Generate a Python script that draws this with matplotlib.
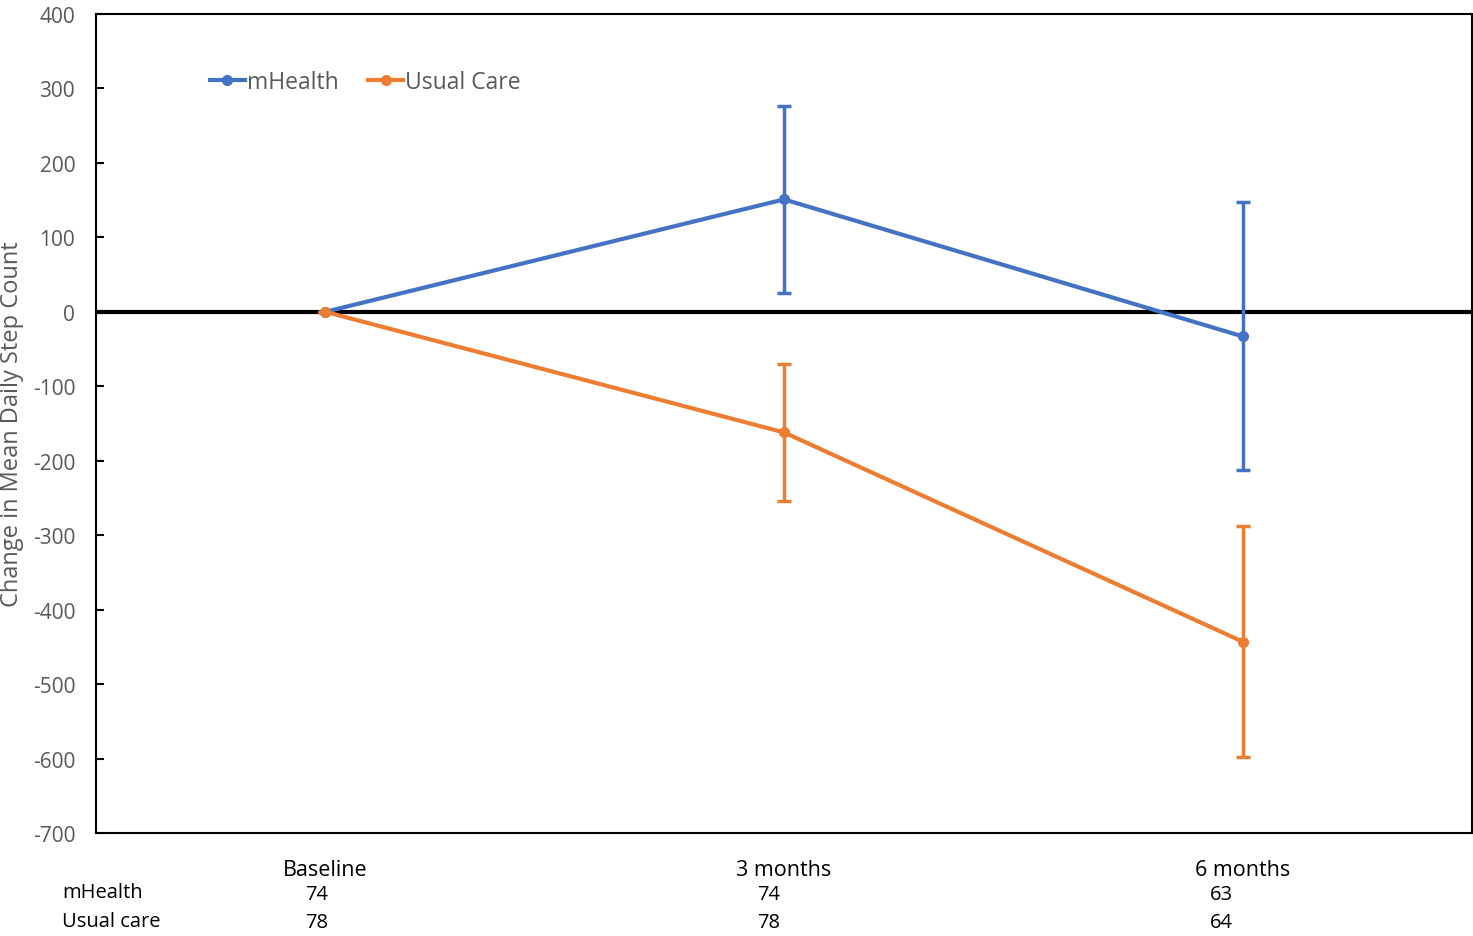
import matplotlib.pyplot as plt
from matplotlib.lines import Line2D

plt.rcParams['font.family'] = ['Open Sans', 'DejaVu Sans']
plt.rcParams['axes.unicode_minus'] = False

timepoints = ['Baseline', '3 months', '6 months']
mhealth_mean = [0, 151, -33]
mhealth_err = [0, 126, 180]
usual_mean = [0, -162, -443]
usual_err = [0, 92, 155]
mhealth_n = [74, 74, 63]
usual_n = [78, 78, 64]

blue = '#4472C4'
orange = '#ED7D31'
grey = '#595959'

fig = plt.figure(figsize=(14.73, 9.37), dpi=100)
ax = fig.add_axes([96 / 1473, 1 - 834 / 937, 1376 / 1473, 819 / 937])

x = [0.5, 1.5, 2.5]
ax.errorbar(x, mhealth_mean, yerr=mhealth_err, color=blue, lw=3, marker='o', ms=7,
            elinewidth=2.5, capsize=5, capthick=2.5, label='mHealth', zorder=3)
ax.errorbar(x, usual_mean, yerr=usual_err, color=orange, lw=3, marker='o', ms=7,
            elinewidth=2.5, capsize=5, capthick=2.5, label='Usual Care', zorder=3)
ax.axhline(0, color='black', lw=3, zorder=2)

ax.set_xlim(0, 3)
ax.set_ylim(-700, 400)
ax.set_yticks(range(-700, 401, 100))
ax.set_xticks([])
ax.tick_params(axis='y', direction='in', length=6, width=1.5, labelsize=15, labelcolor=grey, pad=15)
for s in ax.spines.values():
    s.set_linewidth(1.5)
fig.text(12 / 1473, 1 - 424 / 937, 'Change in Mean Daily Step Count', rotation=90,
         ha='center', va='center', fontsize=17, color=grey)

# n table under the axis
shift = [-0.02, -0.033, -0.046]
for xi, dx, lab, a, b in zip(x, shift, timepoints, mhealth_n, usual_n):
    ax.text(xi, -0.045, lab, transform=ax.get_xaxis_transform(), ha='center', va='center', fontsize=15.5)
    ax.text(xi + dx, -0.074, str(a), transform=ax.get_xaxis_transform(), ha='center', va='center', fontsize=14.5)
    ax.text(xi + dx, -0.109, str(b), transform=ax.get_xaxis_transform(), ha='center', va='center', fontsize=14.5)
fig.text(62 / 1473, 1 - 893 / 937, 'mHealth', ha='left', va='center', fontsize=14.5)
fig.text(62 / 1473, 1 - 922 / 937, 'Usual care', ha='left', va='center', fontsize=14.5)

handles = [Line2D([], [], color=blue, lw=3, marker='o', ms=7),
           Line2D([], [], color=orange, lw=3, marker='o', ms=7)]
ax.legend(handles, ['mHealth', 'Usual Care'], loc='upper left', bbox_to_anchor=(0.068, 0.957),
          ncol=2, frameon=False, fontsize=16.5, handlelength=1.5, handletextpad=0.1,
          columnspacing=1.3, labelcolor=grey)

fig.savefig('out.png', dpi=100)
